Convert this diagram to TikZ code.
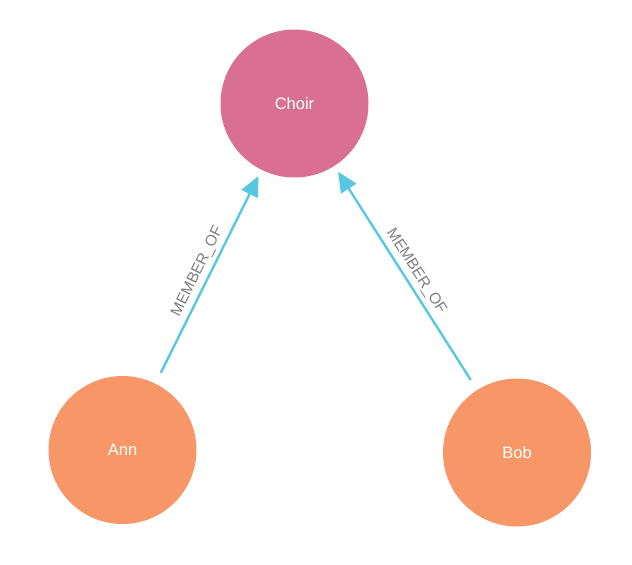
\documentclass[tikz,border=0pt]{standalone}
\usepackage{fontspec}
\setmainfont{Liberation Sans}
\usepackage{tikz}
\usepackage{xcolor}
\usetikzlibrary{
    arrows.meta,
    calc,
    positioning
}
\definecolor{choirpink}{HTML}{D96F93}
\definecolor{personorange}{HTML}{F79767}
\definecolor{relblue}{HTML}{57C7E3}
\definecolor{relgray}{HTML}{7F7F7F}
\tikzset{gnode/.style={circle, inner sep=0pt, outer sep=0pt, minimum size=148pt, text=white, font=\fontsize{16.5pt}{19pt}\selectfont}}
\tikzset{grel/.style={-{Triangle[length=20pt, width=18pt]}, line width=2.4pt, draw=relblue, shorten <=12pt, shorten >=7pt}}
\tikzset{glabel/.style={midway, sloped, above=4pt, inner sep=0pt, text=relgray, font=\fontsize{15.5pt}{18pt}\selectfont}}

\begin{document}
\begin{tikzpicture}[x=1pt, y=-1pt]
                        \useasboundingbox (0, 0) rectangle (632, 565);

                        \node[gnode, fill=choirpink] (choir) at (294.5, 103.5) {Choir};
                        \node[gnode, fill=personorange] (ann) at (122.5, 450) {Ann};
                        \node[gnode, fill=personorange] (bob) at (517, 452.5) {Bob};

                        \draw
                        (ann) edge[grel] node[glabel]{MEMBER\_OF} (choir)
                        (bob) edge[grel] node[glabel]{MEMBER\_OF} (choir);
                    \end{tikzpicture}
\end{document}
